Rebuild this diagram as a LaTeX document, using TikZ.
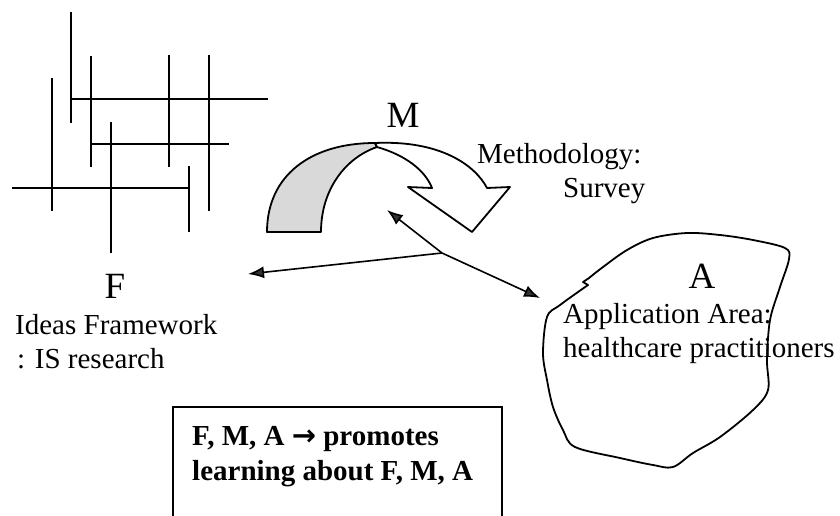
\documentclass[tikz,border=0pt]{standalone}
\usepackage{fontspec}
\setmainfont{Liberation Serif}
\newfontfamily\arrowfont{DejaVu Sans}
\usetikzlibrary{arrows.meta}
\begin{document}
\begin{tikzpicture}[x=1pt,y=-1pt,
  gridline/.style={line width=2.3pt},
  lbl/.style={inner sep=0pt,anchor=base west,font=\fontsize{29}{34}\selectfont},
  boldlbl/.style={inner sep=0pt,anchor=base west,font=\fontsize{29}{34}\selectfont\bfseries},
  big/.style={inner sep=0pt,anchor=base,font=\fontsize{37}{40}\selectfont},
  conn/.style={line width=1.6pt,-{Latex[length=16pt,width=12pt,fill=black!80]}},
  outline/.style={line width=1.8pt,line join=round},
]
\clip (0,0) rectangle (840,515);
\fill[white] (0,0) rectangle (840,515);

% ---- Framework grid lines ----
\draw[gridline] (71,12) -- (71,123);
\draw[gridline] (91,56) -- (91,167);
\draw[gridline] (52,78) -- (52,211);
\draw[gridline] (111,122) -- (111,253);
\draw[gridline] (169,55) -- (169,167);
\draw[gridline] (209,55) -- (209,211);
\draw[gridline] (189,166) -- (189,232);
\draw[gridline] (72,99) -- (268,99);
\draw[gridline] (92,144) -- (229,144);
\draw[gridline] (12,188) -- (189,188);

% ---- Methodology curved arrow ----
\filldraw[outline,fill=gray!30] (267,232) .. controls (267,176) and (310,143) .. (375,143)
  -- (377,147) .. controls (345,158) and (321,190) .. (321,232) -- cycle;
\filldraw[outline,fill=white] (375,143) .. controls (440,140) and (475,165) .. (487,188)
  -- (510,187) -- (472,232) -- (408,187) -- (432,188)
  .. controls (425,170) and (405,155) .. (377,147) -- cycle;

% ---- Application area blob ----
\draw[outline] plot[smooth,tension=0.55] coordinates {
  (588,285) (560,305) (547,317) (543,353) (547,380) (553,407) (563,430) (575,447)
  (620,458) (653,465) (673,467) (693,453) (720,437) (753,410) (768,390)
  (767,360) (770,320) (780,287) (789,259) (785,248) (753,240) (720,235)
  (687,233) (653,238) (627,250) (603,267) (589,278)} -- (583,282) -- cycle;

% ---- Labels ----
\node[big] (Fletter) at (115,298) {F};
\node[lbl] (F1) at (15,334) {Ideas Framework};
\node[lbl] (F2) at (17,368) {: IS research};

\node[big] (Mletter) at (403,127) {M};
\node[lbl] (M1) at (477,163) {Methodology:};
\node[lbl] (M2) at (563,197) {Survey};

\node[big] (Aletter) at (702,288) {A};
\node[lbl] (A1) at (563,323) {Application Area:};
\node[lbl] (A2) at (563,357) {healthcare practitioners};

% ---- Connectors ----
\coordinate (j) at (442,253);
\coordinate (toF) at (248,274);
\coordinate (toM) at (387,210);
\coordinate (toA) at (540,298);
\draw[conn] (j) -- (toF);
\draw[conn] (j) -- (toM);
\draw[conn] (j) -- (toA);

% ---- Summary box ----
\draw[line width=2.2pt] (173,530) -- (173,407) -- (502,407) -- (502,530);
\node[boldlbl] (B1) at (192,445) {F, M, A {\arrowfont\bfseries →} promotes};
\node[boldlbl] (B2) at (192,480) {learning about F, M, A};
\end{tikzpicture}
\end{document}
